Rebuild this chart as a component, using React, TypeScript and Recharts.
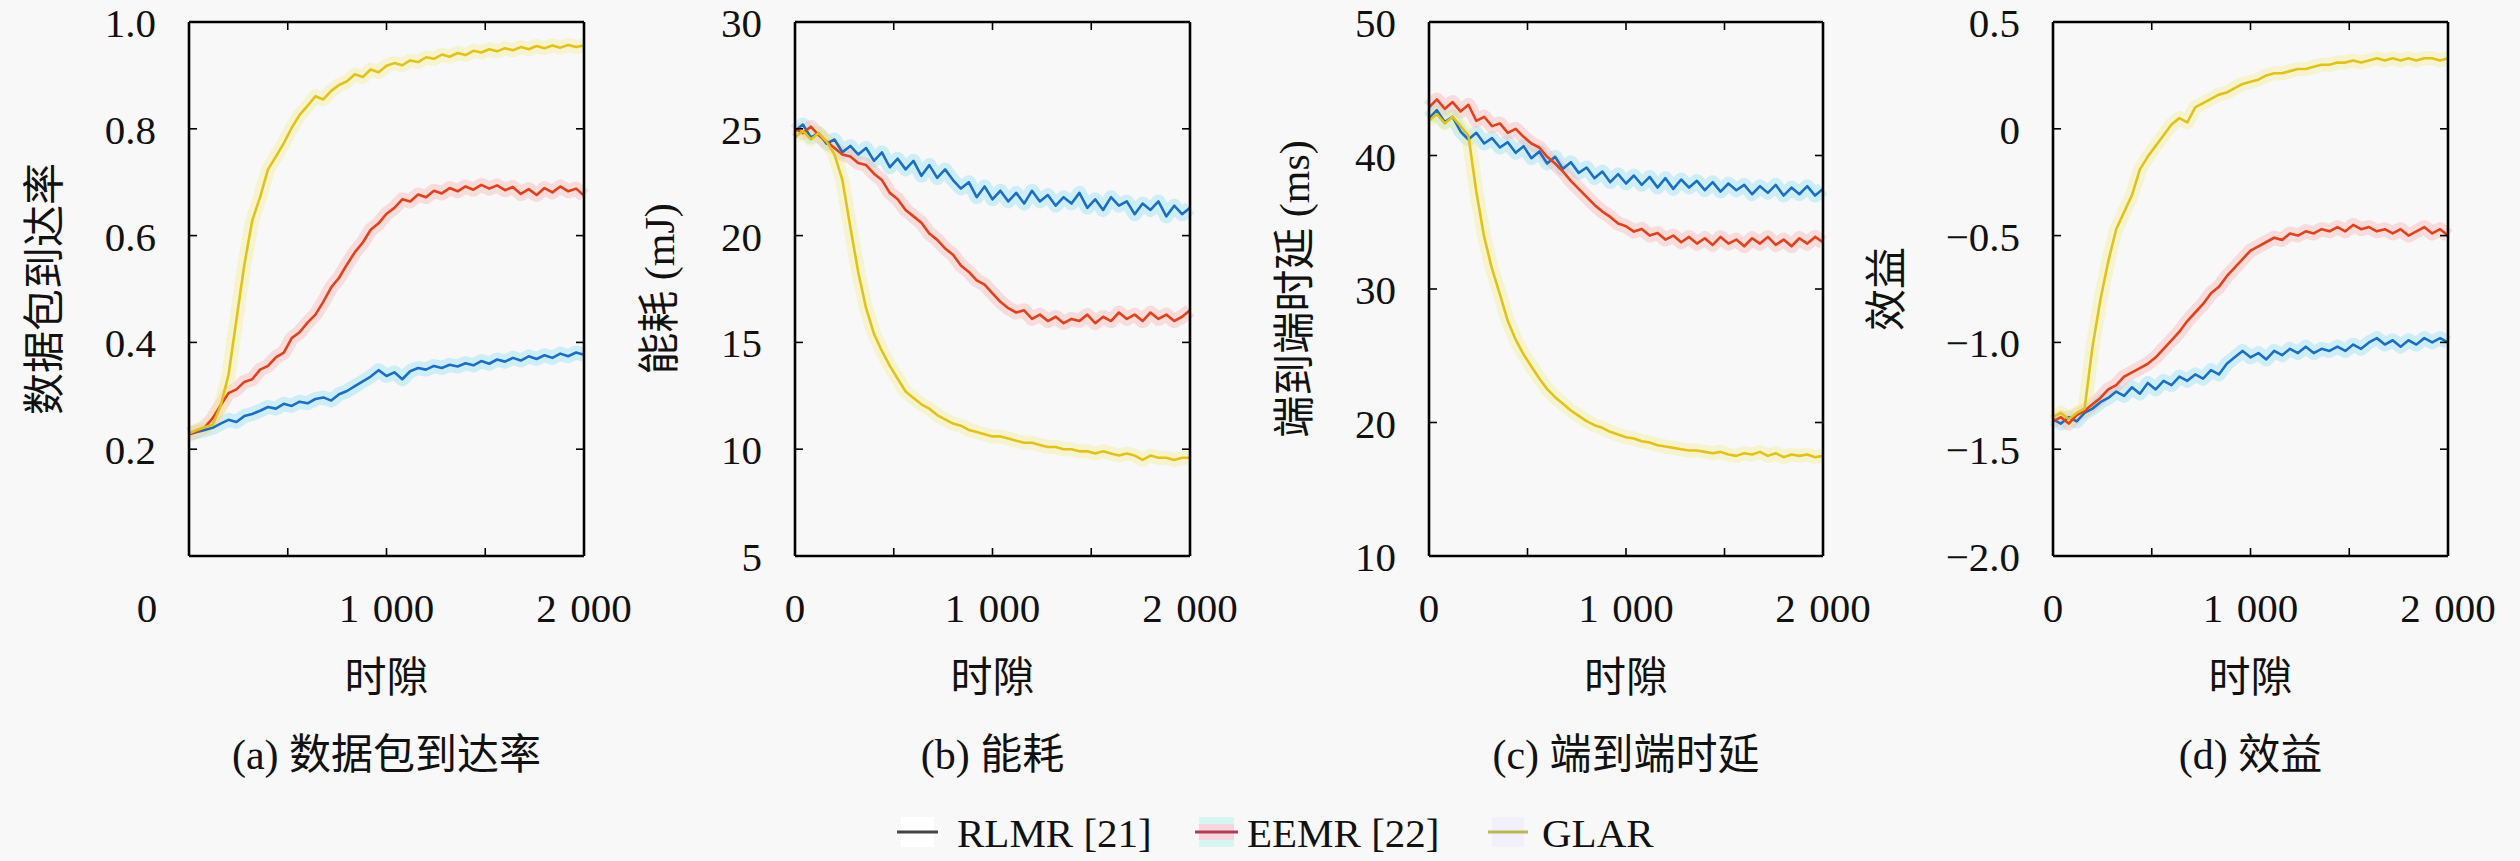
import React from 'react';
import { LineChart, Line, XAxis, YAxis } from 'recharts';

const FONT = "'Liberation Serif', 'Noto Sans CJK SC', serif";
const CJK = "'Liberation Serif', 'Noto Sans CJK SC', sans-serif";

const SLOTS = [0, 40, 80, 120, 160, 200, 240, 280, 320, 360, 400, 440, 480, 520, 560, 600, 640, 680, 720, 760, 800, 840, 880, 920, 960, 1000, 1040, 1080, 1120, 1160, 1200, 1240, 1280, 1320, 1360, 1400, 1440, 1480, 1520, 1560, 1600, 1640, 1680, 1720, 1760, 1800, 1840, 1880, 1920, 1960, 2000];

const X_TICKS = [0, 500, 1000, 1500, 2000];
const X_LABELS: Record<number, string> = { 0: '0', 1000: '1\u2004000', 2000: '2\u2004000' };

// (a) packet delivery ratio
const PDR_RLMR = [0.228, 0.232, 0.236, 0.240, 0.248, 0.255, 0.251, 0.262, 0.266, 0.272, 0.279, 0.276, 0.285, 0.281, 0.289, 0.286, 0.294, 0.297, 0.291, 0.303, 0.309, 0.318, 0.327, 0.336, 0.348, 0.337, 0.344, 0.331, 0.346, 0.352, 0.349, 0.356, 0.352, 0.358, 0.355, 0.361, 0.357, 0.365, 0.360, 0.368, 0.364, 0.371, 0.366, 0.374, 0.369, 0.376, 0.371, 0.379, 0.374, 0.381, 0.377];
const PDR_EEMR = [0.228, 0.234, 0.241, 0.258, 0.282, 0.305, 0.312, 0.326, 0.331, 0.349, 0.356, 0.372, 0.381, 0.408, 0.419, 0.437, 0.452, 0.476, 0.503, 0.521, 0.546, 0.569, 0.587, 0.611, 0.623, 0.641, 0.652, 0.668, 0.664, 0.677, 0.672, 0.684, 0.679, 0.689, 0.683, 0.692, 0.686, 0.695, 0.688, 0.694, 0.685, 0.691, 0.678, 0.687, 0.676, 0.689, 0.681, 0.692, 0.683, 0.688, 0.675];
const PDR_GLAR = [0.230, 0.236, 0.241, 0.246, 0.281, 0.339, 0.442, 0.545, 0.628, 0.672, 0.724, 0.748, 0.773, 0.802, 0.826, 0.843, 0.861, 0.855, 0.871, 0.882, 0.889, 0.902, 0.897, 0.911, 0.906, 0.918, 0.923, 0.919, 0.928, 0.925, 0.934, 0.931, 0.939, 0.935, 0.942, 0.938, 0.946, 0.943, 0.949, 0.945, 0.951, 0.947, 0.953, 0.949, 0.955, 0.951, 0.956, 0.952, 0.957, 0.953, 0.956];

// (b) energy (mJ)
const EN_RLMR = [24.9, 25.2, 24.6, 24.8, 24.3, 24.5, 23.9, 24.2, 23.8, 24.1, 23.5, 23.9, 23.2, 23.6, 23.1, 23.5, 22.8, 23.3, 22.7, 23.1, 22.6, 22.2, 22.5, 21.8, 22.3, 21.7, 22.1, 21.6, 22.0, 21.5, 22.1, 21.6, 21.9, 21.4, 21.8, 21.5, 22.0, 21.3, 21.7, 21.2, 21.8, 21.4, 21.6, 21.0, 21.5, 21.2, 21.6, 20.9, 21.4, 21.0, 21.3];
const EN_EEMR = [25.0, 24.8, 25.1, 24.7, 24.4, 24.1, 23.8, 23.7, 23.4, 23.3, 22.9, 22.6, 22.0, 21.7, 21.2, 20.9, 20.6, 20.1, 19.8, 19.4, 19.1, 18.6, 18.3, 17.9, 17.7, 17.3, 16.9, 16.6, 16.4, 16.5, 16.1, 16.3, 16.0, 16.2, 15.9, 16.1, 16.0, 16.3, 15.9, 16.2, 16.0, 16.4, 16.1, 16.3, 16.0, 16.4, 16.1, 16.3, 16.0, 16.2, 16.5];
const EN_GLAR = [24.6, 24.9, 24.5, 24.8, 24.4, 23.8, 22.6, 20.4, 18.3, 16.6, 15.4, 14.6, 13.9, 13.3, 12.7, 12.4, 12.1, 11.9, 11.6, 11.4, 11.2, 11.1, 10.9, 10.8, 10.7, 10.6, 10.6, 10.5, 10.4, 10.3, 10.3, 10.2, 10.1, 10.1, 10.0, 10.0, 9.9, 9.9, 9.8, 9.9, 9.8, 9.7, 9.8, 9.7, 9.5, 9.7, 9.6, 9.6, 9.5, 9.6, 9.6];

// (c) end-to-end delay (ms)
const DL_RLMR = [42.8, 43.4, 42.5, 42.9, 41.8, 41.2, 41.7, 40.9, 41.3, 40.6, 41.0, 40.2, 40.7, 39.8, 40.3, 39.4, 39.9, 39.0, 39.5, 38.7, 39.1, 38.3, 38.8, 38.0, 38.6, 37.9, 38.5, 37.8, 38.4, 37.6, 38.3, 37.5, 38.2, 37.6, 38.1, 37.4, 38.0, 37.3, 37.9, 37.4, 37.8, 37.1, 37.7, 37.2, 37.8, 37.0, 37.6, 37.1, 37.7, 37.0, 37.5];
const DL_EEMR = [43.6, 44.2, 43.5, 44.0, 43.3, 43.8, 42.6, 42.9, 42.2, 42.4, 41.7, 42.0, 41.4, 40.9, 40.6, 39.9, 39.4, 38.8, 38.1, 37.5, 36.9, 36.3, 35.8, 35.4, 34.9, 34.7, 34.3, 34.5, 34.0, 34.2, 33.7, 34.0, 33.5, 33.9, 33.4, 33.8, 33.3, 33.9, 33.4, 33.7, 33.2, 33.8, 33.4, 33.9, 33.3, 33.7, 33.2, 33.8, 33.4, 33.9, 33.5];
const DL_GLAR = [42.6, 43.1, 42.4, 42.9, 42.2, 41.5, 37.3, 33.9, 31.5, 29.6, 27.6, 26.2, 25.1, 24.2, 23.3, 22.5, 21.9, 21.4, 20.9, 20.5, 20.1, 19.8, 19.6, 19.3, 19.1, 18.9, 18.8, 18.6, 18.5, 18.3, 18.2, 18.1, 18.0, 17.9, 17.9, 17.8, 17.7, 17.8, 17.6, 17.5, 17.7, 17.6, 17.8, 17.5, 17.7, 17.4, 17.6, 17.5, 17.6, 17.4, 17.5];

// (d) utility
const UT_RLMR = [-1.36, -1.38, -1.35, -1.37, -1.33, -1.31, -1.28, -1.26, -1.23, -1.25, -1.21, -1.24, -1.19, -1.22, -1.18, -1.20, -1.16, -1.18, -1.15, -1.17, -1.13, -1.15, -1.10, -1.07, -1.04, -1.07, -1.05, -1.08, -1.04, -1.06, -1.03, -1.05, -1.02, -1.05, -1.03, -1.04, -1.02, -1.04, -1.01, -1.03, -1.00, -0.98, -1.01, -0.99, -1.02, -0.99, -1.01, -0.98, -1.00, -0.98, -1.00];
const UT_EEMR = [-1.37, -1.35, -1.38, -1.34, -1.32, -1.29, -1.26, -1.22, -1.20, -1.16, -1.14, -1.12, -1.10, -1.07, -1.03, -0.99, -0.95, -0.90, -0.86, -0.82, -0.77, -0.74, -0.69, -0.65, -0.61, -0.57, -0.55, -0.53, -0.51, -0.52, -0.49, -0.50, -0.48, -0.49, -0.47, -0.48, -0.46, -0.48, -0.45, -0.47, -0.46, -0.48, -0.47, -0.49, -0.47, -0.50, -0.48, -0.46, -0.49, -0.47, -0.50];
const UT_GLAR = [-1.35, -1.33, -1.36, -1.33, -1.31, -1.02, -0.80, -0.62, -0.47, -0.39, -0.31, -0.19, -0.13, -0.08, -0.03, 0.02, 0.05, 0.03, 0.10, 0.12, 0.14, 0.16, 0.17, 0.19, 0.21, 0.22, 0.23, 0.25, 0.26, 0.26, 0.27, 0.28, 0.28, 0.29, 0.30, 0.30, 0.31, 0.31, 0.32, 0.31, 0.32, 0.33, 0.32, 0.33, 0.32, 0.33, 0.32, 0.33, 0.33, 0.32, 0.33];

const SERIES = [
  { key: 'rlmr', name: 'RLMR [21]', color: '#1b6fc2', band: '#8fdff5', legend: '#454545', legendBand: '#ffffff', legendMid: '#ffffff' },
  { key: 'eemr', name: 'EEMR [22]', color: '#e0421c', band: '#f8b0b0', legend: '#b23a52', legendBand: '#d6f6f2', legendMid: '#f6d6de' },
  { key: 'glar', name: 'GLAR', color: '#e2c21a', band: '#f3ee90', legend: '#b9b852', legendBand: '#f1f0fb', legendMid: '#f1f0fb' },
];

type Panel = {
  left: number;
  width: number;
  domain: [number, number];
  yTicks: number[];
  yLabels: Record<string, string>;
  ylabel: string;
  ylabelX: number;
  caption: string;
  zeroShift: number;
  r: number[];
  e: number[];
  g: number[];
};

const PANELS: Panel[] = [
  {
    left: 189, width: 395, domain: [0, 1], yTicks: [0, 0.2, 0.4, 0.6, 0.8, 1.0],
    yLabels: { '0.2': '0.2', '0.4': '0.4', '0.6': '0.6', '0.8': '0.8', '1': '1.0' },
    ylabel: '数据包到达率', ylabelX: 45, caption: '(a) 数据包到达率', zeroShift: -42,
    r: PDR_RLMR, e: PDR_EEMR, g: PDR_GLAR,
  },
  {
    left: 795, width: 395, domain: [5, 30], yTicks: [5, 10, 15, 20, 25, 30],
    yLabels: { '5': '5', '10': '10', '15': '15', '20': '20', '25': '25', '30': '30' },
    ylabel: '能耗 (mJ)', ylabelX: 660, caption: '(b) 能耗', zeroShift: 0,
    r: EN_RLMR, e: EN_EEMR, g: EN_GLAR,
  },
  {
    left: 1429, width: 394, domain: [10, 50], yTicks: [10, 20, 30, 40, 50],
    yLabels: { '10': '10', '20': '20', '30': '30', '40': '40', '50': '50' },
    ylabel: '端到端时延 (ms)', ylabelX: 1295, caption: '(c) 端到端时延', zeroShift: 0,
    r: DL_RLMR, e: DL_EEMR, g: DL_GLAR,
  },
  {
    left: 2053, width: 395, domain: [-2, 0.5], yTicks: [-2, -1.5, -1, -0.5, 0, 0.5],
    yLabels: { '-2': '−2.0', '-1.5': '−1.5', '-1': '−1.0', '-0.5': '−0.5', '0': '0', '0.5': '0.5' },
    ylabel: '效益', ylabelX: 1887, caption: '(d) 效益', zeroShift: 0,
    r: UT_RLMR, e: UT_EEMR, g: UT_GLAR,
  },
];

const PLOT_TOP = 22;
const PLOT_H = 534;
const LEFT_W = 150;
const RIGHT_W = 100;
const BOTTOM_H = 861 - PLOT_TOP - PLOT_H;
const TICK = 8;
const FS = 41;

function BottomTick(props: any) {
  const { x, y, payload, zeroShift } = props;
  const v = payload.value;
  const lab = X_LABELS[v];
  const inner = v !== 0 && v !== 2000;
  return (
    <g>
      {inner && <line x1={x} x2={x} y1={y} y2={y - TICK} stroke="#000" strokeWidth={1.6} />}
      {lab !== undefined && (
        <text x={x + (v === 0 ? zeroShift : 0)} y={y + 66} textAnchor="middle" fontFamily={FONT} fontSize={FS} fill="#111">
          {lab}
        </text>
      )}
    </g>
  );
}

function TopTick(props: any) {
  const { x, y, payload } = props;
  const v = payload.value;
  if (v === 0 || v === 2000) return <g />;
  return <line x1={x} x2={x} y1={y} y2={y + TICK} stroke="#000" strokeWidth={1.6} />;
}

function LeftTick(props: any) {
  const { x, y, payload, labels, domain } = props;
  const v = payload.value;
  const lab = labels[String(v)];
  const inner = v !== domain[0] && v !== domain[1];
  return (
    <g>
      {inner && <line x1={x} x2={x + TICK} y1={y} y2={y} stroke="#000" strokeWidth={1.6} />}
      {lab !== undefined && (
        <text x={x - 33} y={y + 15} textAnchor="end" fontFamily={FONT} fontSize={FS} fill="#111">
          {lab}
        </text>
      )}
    </g>
  );
}

function RightTick(props: any) {
  const { x, y, payload, domain } = props;
  const v = payload.value;
  if (v === domain[0] || v === domain[1]) return <g />;
  return <line x1={x} x2={x - TICK} y1={y} y2={y} stroke="#000" strokeWidth={1.6} />;
}

const axisLine = { stroke: '#000', strokeWidth: 2.6 };

function PanelChart({ p }: { p: Panel }) {
  const rows = SLOTS.map((s, i) => ({ slot: s, rlmr: p.r[i], eemr: p.e[i], glar: p.g[i] }));
  const cx = p.left + p.width / 2;
  return (
    <>
      <div style={{ position: 'absolute', left: p.left - LEFT_W, top: 0 }}>
        <LineChart width={LEFT_W + p.width + RIGHT_W} height={861} data={rows} margin={{ top: 0, right: 0, bottom: 0, left: 0 }}>
          <XAxis xAxisId="b" dataKey="slot" type="number" domain={[0, 2000]} ticks={X_TICKS} interval={0}
            height={BOTTOM_H} tickSize={0} tickMargin={0} tickLine={false} axisLine={axisLine}
            tick={(t: any) => <BottomTick {...t} zeroShift={p.zeroShift} />} />
          <XAxis xAxisId="t" orientation="top" dataKey="slot" type="number" domain={[0, 2000]} ticks={X_TICKS} interval={0}
            height={PLOT_TOP} tickSize={0} tickMargin={0} tickLine={false} axisLine={axisLine}
            tick={(t: any) => <TopTick {...t} />} />
          <YAxis yAxisId="l" type="number" domain={p.domain} ticks={p.yTicks} interval={0} allowDataOverflow
            width={LEFT_W} tickSize={0} tickMargin={0} tickLine={false} axisLine={axisLine}
            tick={(t: any) => <LeftTick {...t} labels={p.yLabels} domain={p.domain} />} />
          <YAxis yAxisId="r" orientation="right" type="number" domain={p.domain} ticks={p.yTicks} interval={0} allowDataOverflow
            width={RIGHT_W} tickSize={0} tickMargin={0} tickLine={false} axisLine={axisLine}
            tick={(t: any) => <RightTick {...t} domain={p.domain} />} />
          {SERIES.map((s) => (
            <Line key={s.key + 'band'} xAxisId="b" yAxisId="l" type="linear" dataKey={s.key} stroke={s.band}
              strokeOpacity={0.4} strokeWidth={14} strokeLinejoin="round" dot={false} activeDot={false}
              isAnimationActive={false} />
          ))}
          {SERIES.map((s) => (
            <Line key={s.key} xAxisId="b" yAxisId="l" type="linear" dataKey={s.key} stroke={s.color}
              strokeWidth={2.6} strokeLinejoin="round" dot={false} activeDot={false} isAnimationActive={false} />
          ))}
        </LineChart>
      </div>
      <div style={{
        position: 'absolute', left: p.ylabelX, top: PLOT_TOP + PLOT_H / 2, transform: 'translate(-50%, -50%) rotate(-90deg)',
        whiteSpace: 'nowrap', fontFamily: CJK, fontSize: 42, color: '#111', lineHeight: 1,
      }}>{p.ylabel}</div>
      <div style={{
        position: 'absolute', left: cx, top: 678, transform: 'translate(-50%, -50%)',
        whiteSpace: 'nowrap', fontFamily: CJK, fontSize: 42, color: '#111', lineHeight: 1,
      }}>时隙</div>
      <div style={{
        position: 'absolute', left: cx, top: 755, transform: 'translate(-50%, -50%)',
        whiteSpace: 'pre', fontFamily: CJK, fontSize: 42, color: '#111', lineHeight: 1,
      }}>{p.caption}</div>
    </>
  );
}

const LEGEND_POS = [
  { x1: 897, x2: 938, tx: 957 },
  { x1: 1195, x2: 1238, tx: 1247 },
  { x1: 1488, x2: 1528, tx: 1542 },
];

function LegendRow() {
  return (
    <svg width={2520} height={64} style={{ position: 'absolute', left: 0, top: 797 }}>
      {SERIES.map((s, i) => (
        <g key={s.key}>
          <rect x={LEGEND_POS[i].x1 + 4} y={35 - 15} width={LEGEND_POS[i].x2 - LEGEND_POS[i].x1 - 8} height={30} fill={s.legendBand} />
          <rect x={LEGEND_POS[i].x1 + 4} y={35 - 8} width={LEGEND_POS[i].x2 - LEGEND_POS[i].x1 - 8} height={16} fill={s.legendMid} />
          <line x1={LEGEND_POS[i].x1} x2={LEGEND_POS[i].x2} y1={35} y2={35} stroke={s.legend} strokeWidth={3} />
          <text x={LEGEND_POS[i].tx} y={50} fontFamily={FONT} fontSize={FS} fill="#111">{s.name}</text>
        </g>
      ))}
    </svg>
  );
}

export default function App() {
  return (
    <div style={{ position: 'absolute', left: 0, top: 0, width: 2520, height: 861, background: '#f8f8f8', overflow: 'hidden' }}>
      {PANELS.map((p, i) => (
        <PanelChart key={i} p={p} />
      ))}
      <LegendRow />
    </div>
  );
}
